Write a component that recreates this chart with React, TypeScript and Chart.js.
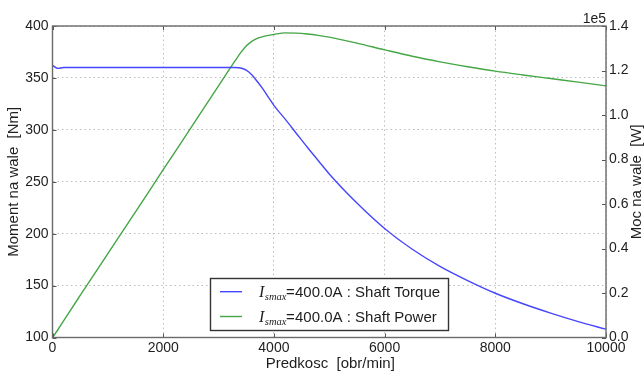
import React, { useEffect, useRef } from "react";
import { Chart, registerables } from "chart.js";

Chart.register(...registerables);

// ---- data ----
const rpm = [0, 100, 200, 500, 1000, 1500, 2000, 2500, 3000, 3300, 3400, 3500, 3600, 3700, 3800, 3900, 4000, 4200, 4400, 4600, 4800, 5000, 5500, 6000, 6500, 7000, 7500, 8000, 8500, 9000, 9500, 10000];
const torqueNm = [362, 359.2, 360, 360, 360, 360, 360, 360, 360, 360, 359.5, 357.5, 353, 346.5, 339.5, 331.5, 323.5, 310.5, 297, 283.5, 270.5, 257.5, 229.5, 205, 185, 168.5, 154.8, 142.6, 132.5, 123.5, 115.3, 108];
const powerW = [0, 3600, 7500, 18900, 37700, 56500, 75400, 94200, 113100, 124400, 128000, 131000, 133100, 134400, 135200, 135800, 136200, 136900, 136800, 136400, 135800, 135000, 132300, 129300, 126400, 123900, 121700, 119700, 118000, 116400, 114800, 113100];

const xTickValues = [0, 2000, 4000, 6000, 8000, 10000];
const torqueTicks = [100, 150, 200, 250, 300, 350, 400];
const powerTicks = [0, 20000, 40000, 60000, 80000, 100000, 120000, 140000];

const seriesLabels = ["400.0A : Shaft Torque", "400.0A : Shaft Power"];
const xTitle = "Predkosc  [obr/min]";
const yLeftTitle = "Moment na wale  [Nm]";
const yRightTitle = "Moc na wale  [W]";
const offsetLabel = "1e5";

const BLUE = "#4646ff";
const GREEN = "#45a645";
const SANS = '"Liberation Sans", Arial, sans-serif';
const SERIF = '"Liberation Serif", "DejaVu Serif", serif';
const TEXT = "#1e1e1e";

const decor = {
  id: "decor",
  afterDraw(chart: any) {
    const { ctx, chartArea: a, scales } = chart;
    ctx.save();
    const line = (x1: number, y1: number, x2: number, y2: number) => {
      ctx.beginPath();
      ctx.moveTo(x1, y1);
      ctx.lineTo(x2, y2);
      ctx.stroke();
    };
    // inward tick marks
    ctx.strokeStyle = "#555";
    ctx.lineWidth = 1;
    for (const v of xTickValues) {
      const px = Math.round(scales.x.getPixelForValue(v)) + 0.5;
      line(px, a.bottom, px, a.bottom - 4);
      line(px, a.top, px, a.top + 4);
    }
    for (const v of torqueTicks) {
      const py = Math.round(scales.y.getPixelForValue(v)) + 0.5;
      line(a.left, py, a.left + 4, py);
    }
    for (const v of powerTicks) {
      const py = Math.round(scales.y2.getPixelForValue(v)) + 0.5;
      line(a.right, py, a.right - 4, py);
    }
    // frame
    ctx.strokeStyle = "#6a6a6a";
    ctx.lineWidth = 1.4;
    ctx.strokeRect(a.left, a.top, a.right - a.left, a.bottom - a.top);

    // axis titles
    ctx.fillStyle = TEXT;
    ctx.font = `15px ${SANS}`;
    ctx.textAlign = "center";
    ctx.textBaseline = "middle";
    ctx.fillText(xTitle, (a.left + a.right) / 2 + 1, 364);
    const midY = (a.top + a.bottom) / 2;
    ctx.save();
    ctx.translate(13.5, midY);
    ctx.rotate(-Math.PI / 2);
    ctx.fillText(yLeftTitle, 0, 0);
    ctx.restore();
    ctx.save();
    ctx.translate(636.5, midY);
    ctx.rotate(-Math.PI / 2);
    ctx.fillText(yRightTitle, 0, 0);
    ctx.restore();

    // offset label
    ctx.font = `14px ${SANS}`;
    ctx.textAlign = "right";
    ctx.textBaseline = "alphabetic";
    ctx.fillText(offsetLabel, a.right, 23);

    // legend
    const lx = 210.5, ly = 278.5, lw = 238, lh = 52;
    ctx.fillStyle = "#ffffff";
    ctx.fillRect(lx, ly, lw, lh);
    ctx.strokeStyle = "#333";
    ctx.lineWidth = 1.4;
    ctx.strokeRect(lx, ly, lw, lh);
    const colors = [BLUE, GREEN];
    const rows = [291.7, 316.5];
    seriesLabels.forEach((lab, i) => {
      const ry = rows[i];
      ctx.strokeStyle = colors[i];
      ctx.lineWidth = 1.4;
      line(220, ry, 242, ry);
      ctx.fillStyle = TEXT;
      ctx.textAlign = "left";
      ctx.textBaseline = "alphabetic";
      const base = ry + 5.5;
      let x = 259;
      ctx.font = `italic 16px ${SERIF}`;
      ctx.fillText("I", x, base);
      x += ctx.measureText("I").width + 0.5;
      ctx.font = `italic 10.5px ${SERIF}`;
      ctx.fillText("smax", x, base + 2.5);
      ctx.font = `15px ${SANS}`;
      ctx.fillText("=", 286, base);
      ctx.fillText(lab, 295, base);
    });
    ctx.restore();
  },
};

export default function App() {
  const ref = useRef<HTMLCanvasElement>(null);
  useEffect(() => {
    if (!ref.current) return;
    const tickFont = { family: SANS, size: 14 };
    const chart = new Chart(ref.current, {
      type: "line",
      data: {
        datasets: [
          {
            label: seriesLabels[0],
            data: rpm.map((r, i) => ({ x: r, y: torqueNm[i] })),
            borderColor: BLUE,
            borderWidth: 1.4,
            pointRadius: 0,
            cubicInterpolationMode: "monotone",
            yAxisID: "y",
          },
          {
            label: seriesLabels[1],
            data: rpm.map((r, i) => ({ x: r, y: powerW[i] })),
            borderColor: GREEN,
            borderWidth: 1.4,
            pointRadius: 0,
            cubicInterpolationMode: "monotone",
            yAxisID: "y2",
          },
        ],
      },
      options: {
        animation: false,
        responsive: false,
        layout: { padding: { top: 26, left: 0, right: 0, bottom: 0 } },
        plugins: { legend: { display: false }, tooltip: { enabled: false } },
        scales: {
          x: {
            type: "linear",
            min: 0,
            max: 10000,
            afterBuildTicks: (s: any) => {
              s.ticks = xTickValues.map((v) => ({ value: v }));
            },
            afterFit: (s: any) => {
              s.height = 36.5;
            },
            ticks: { font: tickFont, color: TEXT, padding: 2, maxRotation: 0, callback: (v: any) => String(v) },
            grid: { color: "#bdbdbd", lineWidth: 1, drawTicks: false },
            border: { display: false, dash: [1.5, 3] },
          },
          y: {
            type: "linear",
            position: "left",
            min: 100,
            max: 400,
            afterBuildTicks: (s: any) => {
              s.ticks = torqueTicks.map((v) => ({ value: v }));
            },
            afterFit: (s: any) => {
              s.width = 52.5;
            },
            ticks: { font: tickFont, color: TEXT, padding: 4, callback: (v: any) => String(v) },
            grid: { color: "#bdbdbd", lineWidth: 1, drawTicks: false },
            border: { display: false, dash: [1.5, 3] },
          },
          y2: {
            type: "linear",
            position: "right",
            min: 0,
            max: 140000,
            afterBuildTicks: (s: any) => {
              s.ticks = powerTicks.map((v) => ({ value: v }));
            },
            afterFit: (s: any) => {
              s.width = 38;
            },
            ticks: { font: tickFont, color: TEXT, padding: 3, callback: (v: any) => (Number(v) / 1e5).toFixed(1) },
            grid: { display: false, drawTicks: false },
            border: { display: false },
          },
        },
      },
      plugins: [decor],
    } as any);
    return () => chart.destroy();
  }, []);
  return (
    <div style={{ position: "absolute", left: 0, top: 0, width: 644, height: 374, background: "#fff" }}>
      <canvas ref={ref} width={644} height={374} style={{ display: "block" }} />
    </div>
  );
}
